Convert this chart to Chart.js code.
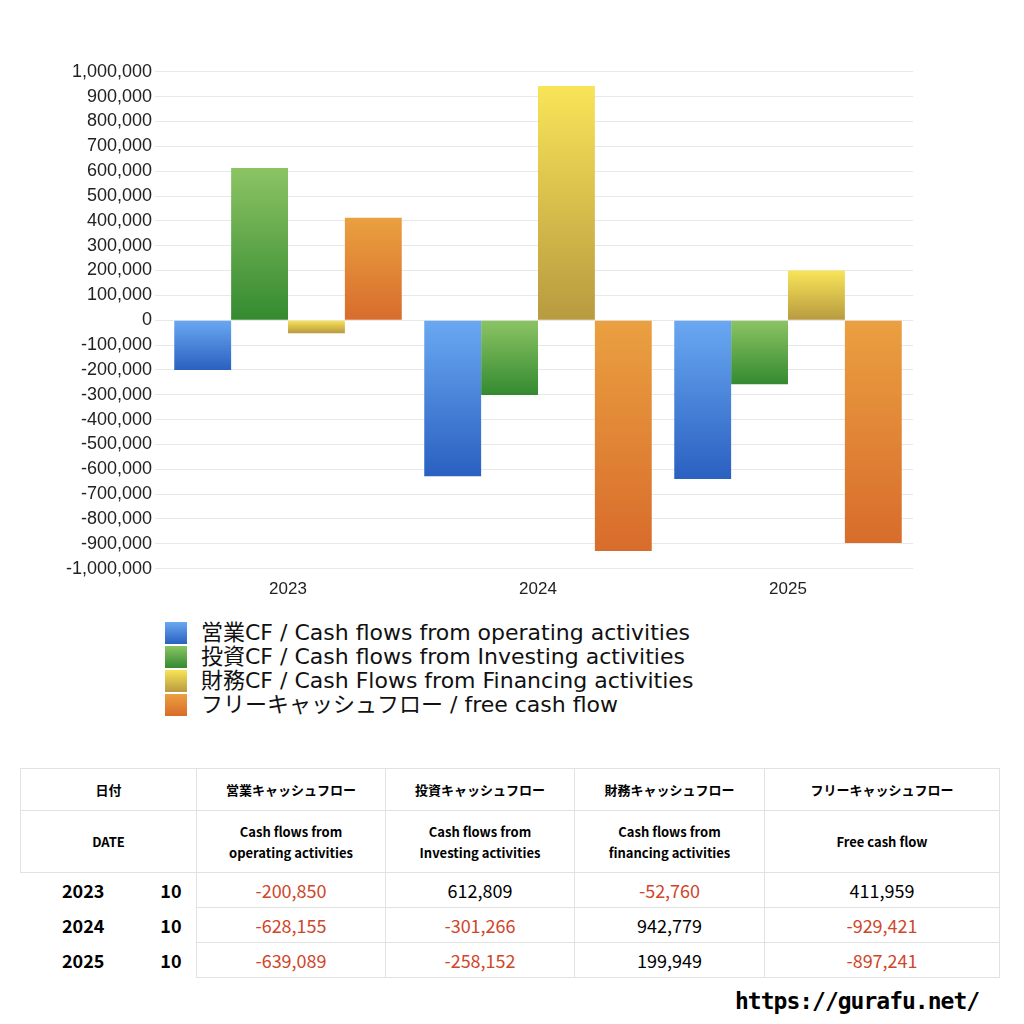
<!DOCTYPE html>
<html><head><meta charset="utf-8">
<script src="https://cdn.jsdelivr.net/npm/chart.js@4.4.1/dist/chart.umd.min.js"></script>
<style>
body{margin:0;width:1024px;height:1024px;background:#fff;font-family:"Noto Sans CJK JP","Noto Sans",sans-serif;position:relative;overflow:hidden}
#wrap{position:absolute;left:40px;top:58px;width:873px;height:545px}
#legend{position:absolute;left:165px;top:621px;font-size:22px;line-height:24px;color:#111;font-family:"DejaVu Sans","Noto Sans CJK JP",sans-serif}
#legend div{display:flex;align-items:center}
#legend span.sw{width:22px;height:22px;margin-right:14px;display:inline-block}
table{position:absolute;left:20px;top:768px;width:980px;border-collapse:collapse;font-size:13px}
td{border:1px solid #e2e2e2;text-align:center;padding:0}
tr.h1 td{height:41px;font-weight:bold}
tr.h2 td{height:61px;font-weight:bold;line-height:21px}
tr.d td{height:34px;font-size:18px}
tr.d td.y{font-weight:bold;border:none}
.neg{color:#d0462a}
#url{position:absolute;left:735px;top:988px;font-size:23px;font-weight:bold;font-family:"DejaVu Sans Mono",monospace;letter-spacing:-1px}
</style></head><body>
<div id="wrap"><canvas id="c"></canvas></div>
<div id="legend"></div>
<table id="tbl"></table>
<div id="url">https://gurafu.net/</div>
<script>
const years = ['2023', '2024', '2025'];
const seriesNames = ['営業CF / Cash flows from operating activities', '投資CF / Cash flows from Investing activities', '財務CF / Cash Flows from Financing activities', 'フリーキャッシュフロー / free cash flow'];
const operating = [-200850, -628155, -639089];
const investing = [612809, -301266, -258152];
const financing = [-52760, 942779, 199949];
const freeCF = [411959, -929421, -897241];
const colTop = ['#6aa8f2', '#8cc464', '#f8e458', '#eaa040'];
const colBot = ['#2a60c0', '#348a30', '#b89a40', '#d86c2c'];

function grad(i) {
  return ctx => {
    const ch = ctx.chart, ys = ch.scales && ch.scales.y;
    if (!ch.chartArea || !ys || ctx.raw === undefined) return colTop[i];
    const a = ys.getPixelForValue(ctx.raw), b = ys.getPixelForValue(0);
    const y0 = Math.min(a, b), y1 = Math.max(a, b);
    if (!isFinite(y0) || y1 - y0 < 1) return colTop[i];
    const g = ch.ctx.createLinearGradient(0, y0, 0, y1);
    g.addColorStop(0, colTop[i]); g.addColorStop(1, colBot[i]);
    return g;
  };
}
const all = [operating, investing, financing, freeCF];
new Chart(document.getElementById('c'), {
  type: 'bar',
  data: { labels: years, datasets: all.map((d, i) => ({ label: seriesNames[i], data: d, backgroundColor: grad(i), categoryPercentage: 0.91, barPercentage: 1 })) },
  options: {
    animation: false, responsive: true, maintainAspectRatio: false,
    layout: { padding: { top: 2 } },
    plugins: { legend: { display: false }, tooltip: { enabled: false } },
    scales: {
      x: { grid: { display: false }, border: { display: false }, ticks: { color: '#222', font: { size: 17 } } },
      y: { min: -1000000, max: 1000000, border: { display: false },
        afterFit: s => { s.width = 123; },
        ticks: { stepSize: 100000, color: '#222', font: { size: 18 }, callback: v => v.toLocaleString('en-US') },
        grid: { color: '#e8e8e8' } }
    }
  }
});
document.getElementById('legend').innerHTML = seriesNames.map((n, i) =>
  `<div><span class="sw" style="background:linear-gradient(${colTop[i]},${colBot[i]})"></span>${n}</div>`).join('');
const fmt = v => `<td class="${v < 0 ? 'neg' : ''}">${v.toLocaleString('en-US')}</td>`;
let h = `<tr class="h1"><td colspan="2" style="width:175px">日付</td><td style="width:188px">営業キャッシュフロー</td><td style="width:188px">投資キャッシュフロー</td><td style="width:189px">財務キャッシュフロー</td><td>フリーキャッシュフロー</td></tr>
<tr class="h2"><td colspan="2">DATE</td><td>Cash flows from<br>operating activities</td><td>Cash flows from<br>Investing activities</td><td>Cash flows from<br>financing activities</td><td>Free cash flow</td></tr>`;
years.forEach((y, i) => {
  h += `<tr class="d"><td class="y" style="width:125px">${y}</td><td class="y" style="width:50px;border-right:1px solid #e2e2e2">10</td>${fmt(operating[i])}${fmt(investing[i])}${fmt(financing[i])}${fmt(freeCF[i])}</tr>`;
});
document.getElementById('tbl').innerHTML = h;
</script>
</body></html>
